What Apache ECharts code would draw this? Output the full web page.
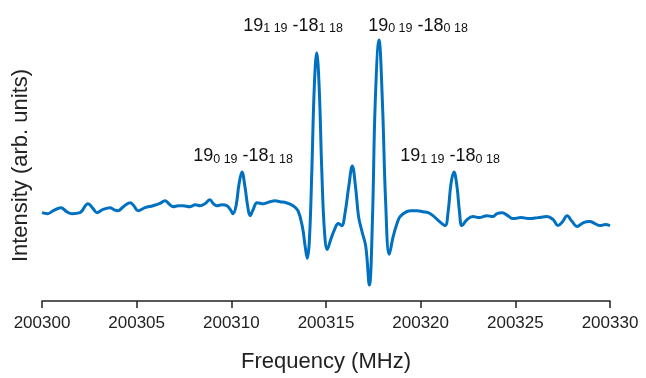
<!DOCTYPE html>
<html>
<head>
<meta charset="utf-8">
<script src="https://cdn.jsdelivr.net/npm/echarts@6/dist/echarts.min.js"></script>
<style>
  html, body { margin: 0; padding: 0; background: #fff; }
  #chart { width: 646px; height: 378px; }
</style>
</head>
<body>
<div id="chart"></div>
<script>
// spectrum (MHz, arbitrary intensity)
var freq = [
  200300.00, 200300.30, 200300.60, 200301.00, 200301.30, 200301.58, 200302.00, 200302.43, 200302.70, 200302.90,
  200303.20, 200303.59, 200303.80, 200304.01, 200304.30, 200304.65, 200304.85, 200305.07, 200305.44, 200305.86,
  200306.20, 200306.50, 200306.70, 200306.92, 200307.20, 200307.45, 200307.80, 200308.10, 200308.35, 200308.60,
  200308.87, 200309.05, 200309.24, 200309.50, 200309.77, 200309.95, 200310.09, 200310.25, 200310.40, 200310.56,
  200310.72, 200310.86, 200310.99, 200311.15, 200311.36, 200311.70, 200312.04, 200312.30, 200312.57, 200312.90,
  200313.26, 200313.52, 200313.75, 200313.90, 200314.01, 200314.12, 200314.25, 200314.38, 200314.51, 200314.64,
  200314.78, 200314.92, 200315.07, 200315.25, 200315.45, 200315.65, 200315.83, 200316.00, 200316.20, 200316.39,
  200316.56, 200316.72, 200316.90, 200317.10, 200317.29, 200317.45, 200317.60, 200317.80, 200317.98, 200318.15,
  200318.34, 200318.55, 200318.75, 200318.91, 200319.26, 200319.50, 200319.81, 200320.12, 200320.40, 200320.65,
  200321.00, 200321.29, 200321.45, 200321.60, 200321.76, 200321.92, 200322.05, 200322.18, 200322.45, 200322.76,
  200323.10, 200323.50, 200323.80, 200324.03, 200324.30, 200324.60, 200324.88, 200325.30, 200325.77, 200326.20,
  200326.67, 200327.00, 200327.25, 200327.50, 200327.73, 200328.00, 200328.26, 200328.60, 200328.94, 200329.20,
  200329.47, 200329.75, 200330.00
];
var intensity = [
  89, 88, 91, 94, 90, 88, 89, 98, 93, 89,
  92, 94, 92, 91, 95, 99, 96, 91, 94, 96,
  98, 101, 98, 95, 96, 96, 95, 97, 96, 98,
  102, 98, 96, 97, 96, 92, 88, 96, 117, 130,
  115, 96, 86, 92, 99, 98, 100, 101, 100, 99,
  96, 91, 75, 55, 43, 60, 130, 215, 250, 215,
  130, 70, 52, 62, 72, 78, 76, 88, 115, 136,
  115, 85, 70, 55, 16, 80, 200, 263, 200, 100,
  47, 65, 78, 85, 90, 91, 91, 90, 89, 86,
  80, 76, 90, 118, 130, 115, 90, 76, 82, 85,
  84, 86, 85, 88, 89, 86, 83, 84, 83, 84,
  85, 82, 76, 80, 86, 80, 75, 79, 80, 78,
  76, 77, 76
];
var xTicks = [200300, 200305, 200310, 200315, 200320, 200325, 200330];

// line labels: [main, sub, main, sub] and anchor (freq, intensity)
var labelParts = [
  ['19', '1 19', ' -18', '1 18'],
  ['19', '0 19', ' -18', '0 18'],
  ['19', '0 19', ' -18', '1 18'],
  ['19', '1 19', ' -18', '0 18']
];
var labelFreq = [200313.26, 200319.86, 200310.62, 200321.55];
var labelInt = [279, 279, 148, 148];

var chart = echarts.init(document.getElementById('chart'));
var font = 'Liberation Sans';

var data = freq.map(function (f, i) { return [f, intensity[i]]; });

chart.setOption({
  animation: false,
  grid: { left: 42, right: 36, top: 30, bottom: 75 },
  xAxis: {
    type: 'value',
    min: xTicks[0],
    max: xTicks[xTicks.length - 1],
    interval: 5,
    name: 'Frequency (MHz)',
    nameLocation: 'middle',
    nameGap: 50,
    nameTextStyle: { fontFamily: font, fontSize: 22, color: '#222' },
    axisLine: { lineStyle: { color: '#222', width: 1.5 } },
    axisTick: { length: 7, lineStyle: { color: '#222', width: 1.5 } },
    axisLabel: {
      fontFamily: font, fontSize: 17, color: '#222', margin: 14,
      formatter: function (v) { return String(v); }
    },
    splitLine: { show: false }
  },
  yAxis: {
    type: 'value',
    min: 0,
    max: 273,
    name: 'Intensity (arb. units)',
    nameLocation: 'middle',
    nameGap: 10,
    nameTextStyle: { fontFamily: font, fontSize: 22, color: '#222' },
    axisLine: { show: false },
    axisTick: { show: false },
    axisLabel: { show: false },
    splitLine: { show: false }
  },
  series: [{
    type: 'line',
    data: data,
    showSymbol: false,
    smooth: 0.4,
    lineStyle: { color: '#0070C0', width: 3 }
  }]
});

// place the transition labels at their anchors
var graphics = labelParts.map(function (p, i) {
  var pt = chart.convertToPixel({ gridIndex: 0 }, [labelFreq[i], labelInt[i]]);
  return {
    type: 'text',
    x: pt[0],
    y: pt[1],
    style: {
      text: '{m|' + p[0] + '}{s|' + p[1] + '}{m|' + p[2] + '}{s|' + p[3] + '}',
      align: 'center',
      verticalAlign: 'middle',
      rich: {
        m: { fontFamily: font, fontSize: 18, lineHeight: 15, verticalAlign: 'top', fill: '#111' },
        s: { fontFamily: font, fontSize: 12.5, lineHeight: 14, verticalAlign: 'top', padding: [6, 0, 0, 0], fill: '#111' }
      }
    }
  };
});
chart.setOption({ graphic: graphics });
</script>
</body>
</html>
